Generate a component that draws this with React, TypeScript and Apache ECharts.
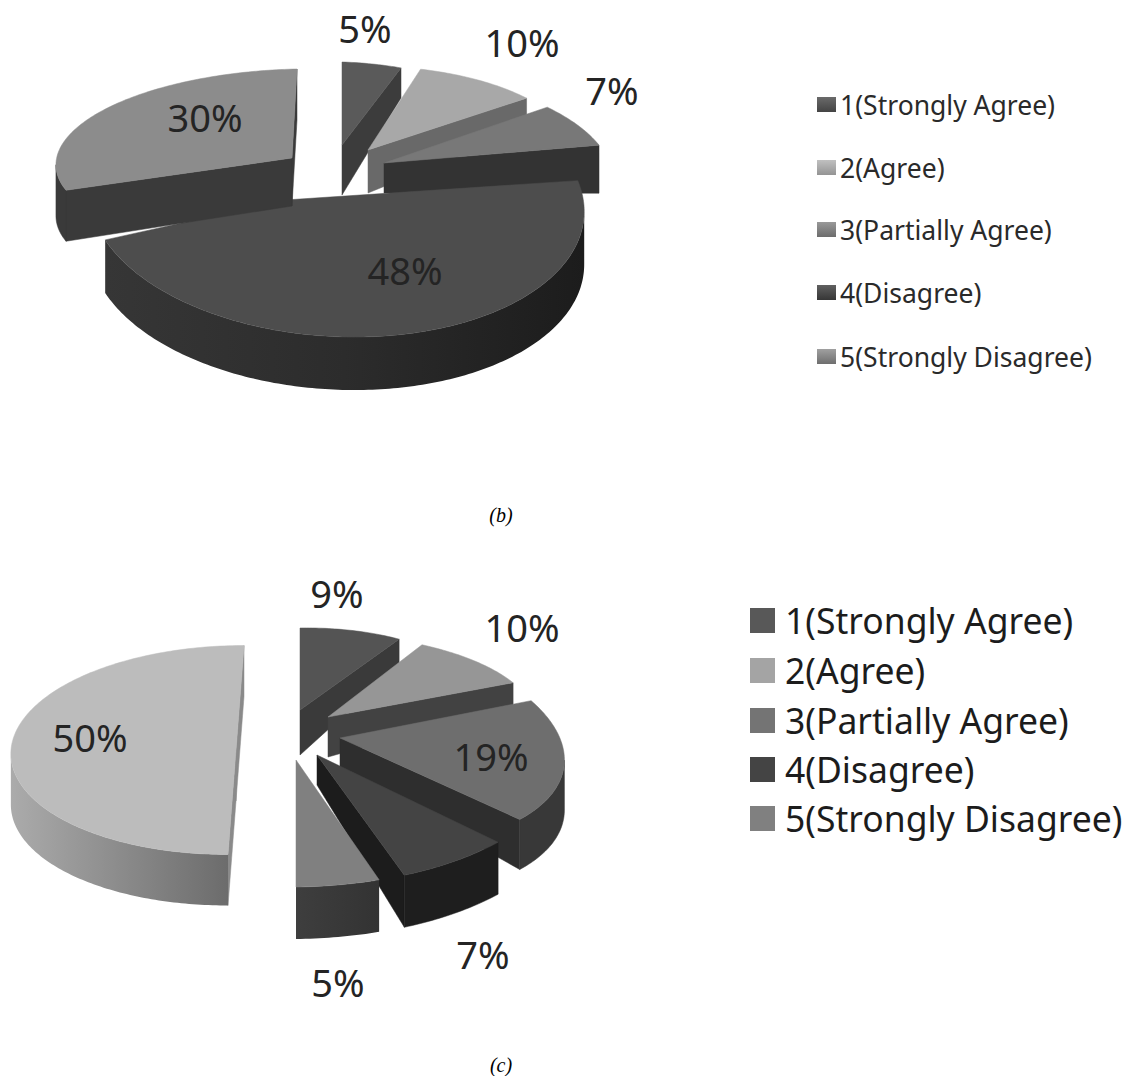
import React, { useEffect, useRef } from "react";
import * as echarts from "echarts";

const categories = ["1(Strongly Agree)", "2(Agree)", "3(Partially Agree)", "4(Disagree)", "5(Strongly Disagree)"];
const valuesB = [5, 10, 7, 48, 30];
const valuesC = [9, 10, 19, 7, 5, 50];
const captionB = "(b)";
const captionC = "(c)";

// Per-slice drawing layout: ellipse centre / horizontal axis vector / vertical axis vector / depth at apex, depth at rim
// p: the visible apex when perspective moves it away from the ellipse centre
type Look = { a: number[]; p?: number[]; u: number[]; v: number[]; d: number[]; top: string; wall: string; rim: any; z: number; label: number[] };
const grad = (l: string, r: string, m?: string) =>
  new echarts.graphic.LinearGradient(0, 0, 1, 0, m
    ? [{ offset: 0, color: l }, { offset: 0.5, color: m }, { offset: 1, color: r }]
    : [{ offset: 0, color: l }, { offset: 1, color: r }]);

const looksB: Look[] = [
  { a: [342, 145], u: [191, 6], v: [0, 83], d: [50, 30], top: "#5a5a5a", wall: "#3c3c3c", rim: "#3c3c3c", z: 1, label: [365, 28] },
  { a: [368, 150], u: [204, -3], v: [11, 84], d: [43, 30], top: "#a8a8a8", wall: "#696969", rim: "#696969", z: 2, label: [522, 42] },
  { a: [384, 163], u: [225, 0], v: [32, 95], d: [30, 48], top: "#787878", wall: "#333333", rim: "#333333", z: 3, label: [612, 90] },
  { a: [337, 202], p: [285, 200], u: [247, 4], v: [10, 135], d: [48, 53], top: "#4d4d4d", wall: "#2c2c2c", rim: grad("#363636", "#1c1c1c", "#2c2c2c"), z: 4, label: [405, 270] },
  { a: [292, 158], u: [236, -5], v: [-5, 89], d: [48, 51], top: "#8c8c8c", wall: "#3a3a3a", rim: "#3a3a3a", z: 5, label: [205, 117] },
];
const looksC: Look[] = [
  { a: [300, 710], u: [185, -3], v: [0, 82], d: [45, 26], top: "#545454", wall: "#3a3a3a", rim: "#3a3a3a", z: 2, label: [337, 593] },
  { a: [328, 717], u: [207, -4], v: [20, 83], d: [40, 22], top: "#969696", wall: "#424242", rim: "#424242", z: 3, label: [522, 627] },
  { a: [340, 738], u: [221, 3], v: [39, 109], d: [30, 50], top: "#6e6e6e", wall: "#2e2e2e", rim: "#383838", z: 4, label: [491, 756] },
  { a: [317, 755], u: [255, -11], v: [9, 130], d: [30, 52], top: "#444444", wall: "#1c1c1c", rim: "#1e1e1e", z: 5, label: [483, 954] },
  { a: [296, 760], u: [269, -3], v: [0, 127], d: [50, 52], top: "#808080", wall: "#3a3a3a", rim: grad("#3e3e3e", "#333333"), z: 6, label: [338, 982] },
  { a: [236, 750], u: [225, 0], v: [-8, 104.5], d: [51, 51], top: "#bcbcbc", wall: "#8a8a8a", rim: grad("#ababab", "#6c6c6c"), z: 1, label: [90, 737] },
];

const LABEL_FONT = "Noto Sans";

function pieSeries(values: number[], looks: Look[]) {
  const total = values.reduce((s, v) => s + v, 0);
  const renderItem = (params: any, api: any) => {
    const i = params.dataIndex;
    const value = api.value(0) as number;
    let before = 0;
    for (let k = 0; k < i; k++) before += values[k];
    const t0 = (before / total) * 360;
    const t1 = ((before + value) / total) * 360;
    const L = looks[i];
    const apex = L.p || L.a;
    const pt = (deg: number) => {
      const r = (deg * Math.PI) / 180;
      const s = Math.sin(r);
      const c = -Math.cos(r);
      return [L.a[0] + s * L.u[0] + c * L.v[0], L.a[1] + s * L.u[1] + c * L.v[1]];
    };
    const rimPts: number[][] = [];
    const n = Math.max(4, Math.ceil(t1 - t0));
    for (let k = 0; k <= n; k++) rimPts.push(pt(t0 + ((t1 - t0) * k) / n));
    const [dA, dR] = L.d;
    const base = L.z * 10;
    const children: any[] = [];
    const poly = (points: number[][], fill: any, z: number) =>
      children.push({ type: "polygon", z2: base + z, shape: { points }, style: { fill, stroke: typeof fill === "string" ? fill : undefined, lineWidth: typeof fill === "string" ? 0.5 : 0 } });

    const first = rimPts[0];
    const last = rimPts[rimPts.length - 1];
    // radial walls, seen only when they face the viewer
    if (first[0] < L.a[0] - 0.5)
      poly([L.a, first, [first[0], first[1] + dR], [L.a[0], L.a[1] + dA]], L.wall, 0);
    if (last[0] > L.a[0] + 0.5)
      poly([L.a, last, [last[0], last[1] + dR], [L.a[0], L.a[1] + dA]], L.wall, 0);
    // front part of the rim
    const front: number[][] = [];
    for (let k = 0; k < rimPts.length - 1; k++) {
      if (rimPts[k + 1][0] < rimPts[k][0]) {
        if (!front.length) front.push(rimPts[k]);
        front.push(rimPts[k + 1]);
      }
    }
    if (front.length > 1) {
      poly([...front, ...front.slice().reverse().map((p) => [p[0], p[1] + dR])], L.rim, 1);
    }
    // top face
    poly([apex, ...rimPts], L.top, 2);
    children.push({
      type: "text",
      z2: 500,
      style: {
        text: `${value}%`,
        x: L.label[0],
        y: L.label[1],
        align: "center",
        verticalAlign: "middle",
        fill: "#242424",
        fontSize: 38,
        fontFamily: LABEL_FONT,
      },
    });
    return { type: "group", children };
  };
  return {
    type: "custom",
    coordinateSystem: "none",
    silent: true,
    clip: false,
    renderItem,
    data: values.map((v) => [v]),
  };
}

const legendColorsB = [["#6a6a6a", "#444444"], ["#c0c0c0", "#949494"], ["#999999", "#6c6c6c"], ["#606060", "#363636"], ["#a0a0a0", "#6e6e6e"]];
const legendColorsC = ["#585858", "#a4a4a4", "#747474", "#444444", "#808080"];
const rowsB = [105, 168, 230, 293, 357];
const rowsC = [620, 670, 720, 769, 818];

function legendGraphics() {
  const out: any[] = [];
  categories.forEach((name, i) => {
    out.push({
      type: "rect",
      shape: { x: 817, y: rowsB[i] - 8, width: 19, height: 15 },
      style: {
        fill: new echarts.graphic.LinearGradient(0, 0, 0, 1, [
          { offset: 0, color: legendColorsB[i][0] },
          { offset: 1, color: legendColorsB[i][1] },
        ]),
      },
    });
    out.push({
      type: "text",
      style: { text: name, x: 840, y: rowsB[i], verticalAlign: "middle", fill: "#2a2a2a", fontSize: 26.5, fontFamily: LABEL_FONT },
    });
    out.push({
      type: "rect",
      shape: { x: 750, y: rowsC[i] - 12, width: 25, height: 25 },
      style: { fill: legendColorsC[i] },
    });
    out.push({
      type: "text",
      style: { text: name, x: 785, y: rowsC[i], verticalAlign: "middle", fill: "#1c1c1c", fontSize: 35.5, fontFamily: LABEL_FONT },
    });
  });
  [[captionB, 515], [captionC, 1065]].forEach(([t, y]) => {
    out.push({
      type: "text",
      style: { text: t, x: 501, y, align: "center", verticalAlign: "middle", fill: "#000", fontSize: 20, fontStyle: "italic", fontFamily: "Liberation Serif" },
    });
  });
  return out;
}

export default function App() {
  const ref = useRef<HTMLDivElement>(null);
  useEffect(() => {
    document.body.style.margin = "0";
    const chart = echarts.init(ref.current!, undefined, { renderer: "svg" });
    chart.setOption({
      animation: false,
      backgroundColor: "#ffffff",
      series: [pieSeries(valuesB, looksB), pieSeries(valuesC, looksC)],
      graphic: legendGraphics(),
    });
    return () => chart.dispose();
  }, []);
  return <div ref={ref} style={{ width: 1134, height: 1076 }} />;
}
